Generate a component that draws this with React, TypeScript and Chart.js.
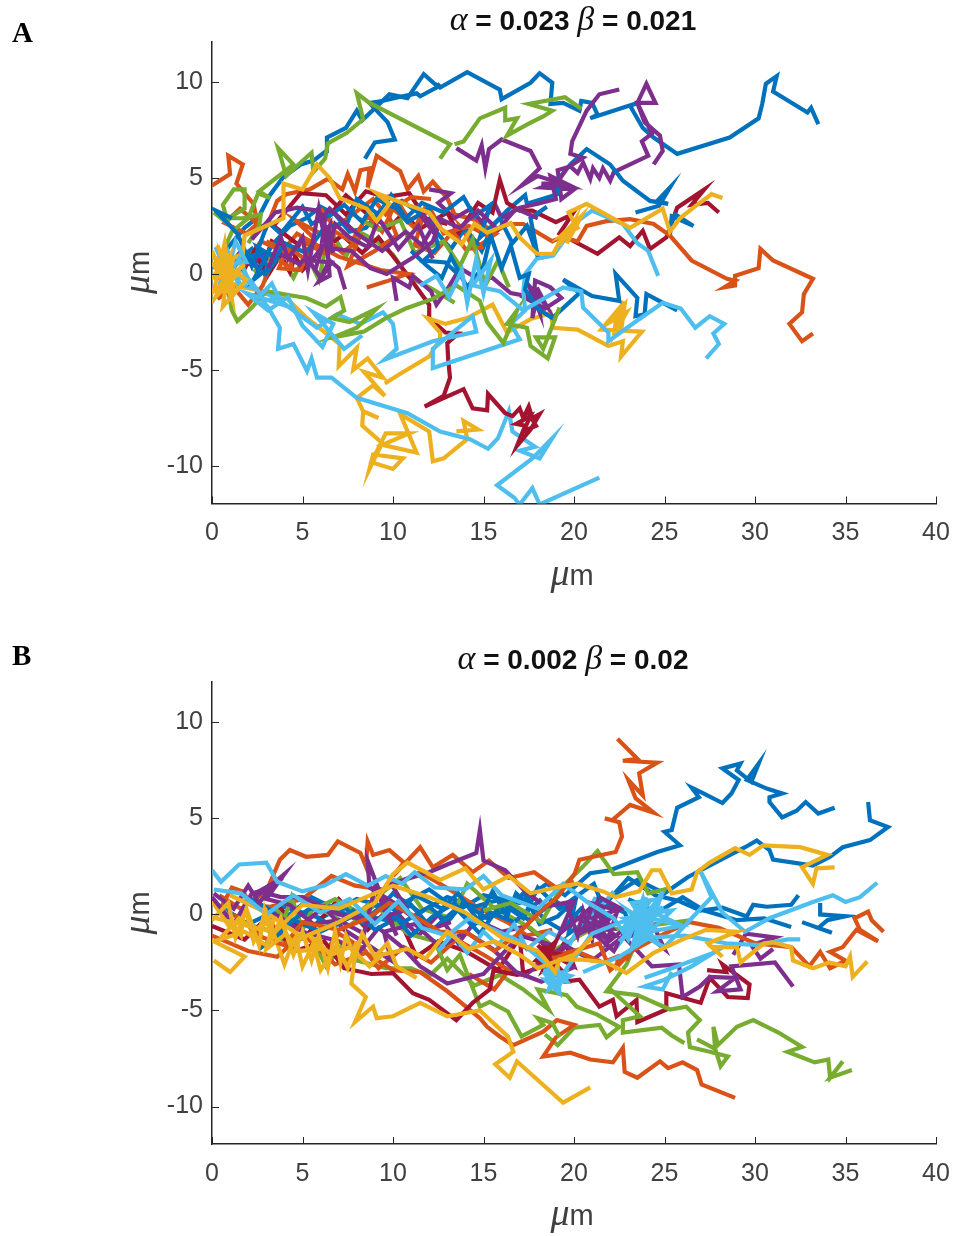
import React, { useEffect, useRef } from "react";
import { Chart, registerables } from "chart.js";

Chart.register(...registerables);

const xTickValues = [0, 5, 10, 15, 20, 25, 30, 35, 40];
const yTickValues = [-10, -5, 0, 5, 10];

// Flat x,y pairs in micrometres. Panel A.
const A_BLUE_1 = [0,0.3,1,1.5,1.8,2.4,2.6,3,3.2,4.1,3.9,5,4.9,5.7,5.6,5.9,6.3,6.4,6.35,7.1,7.4,7.6,8,8.5,8.3,8,9.3,8.9,9.8,9.35,10.8,9.15,11.7,10.4,12.3,9.9,12.6,9.7,14.1,10.5,15.9,9.6,16,9.1,17.6,9.95,18.1,10.45,18.8,9.95,18.7,8.85,19.4,8.9,20.3,8.5,20.4,9,21,8.9,21.3,8.3,20.9,8.1,23.5,8.9,23.1,8.75,23.8,7.6,24.4,7.1,25.7,6.25,28.6,7.1,30.2,8.1,30.4,8.85,30.6,9.9,31.2,10.3,31,9.5,32.9,8.4,33.1,8.65,33.5,7.8];
const A_BLUE_2 = [8.45,6,9,6.85,10.1,7,9.7,7.9,9.2,8.4,8.7,8.9,9.4,9,10.3,9.2,11.3,9.4,11.5,9.25,12.4,9.7,12.6,9.9];
const A_BLUE_3 = [0.4,-0.3,1.4,0.7,2.2,1.3,2.7,0.5,3.4,1.6,4.3,2.5,5.2,2.9,6,3.5,6.8,3.1,7.6,2.2,8.5,2.4,9.3,3.3,10.5,3.8,11.4,3.2,12.2,2.4,13.2,1.3,14,2.4,14.9,1.2,15.5,2.5,16.3,3.3,17.3,4.1,17.4,3.65,19.1,4.15,19.2,5,19.8,5.7,20.7,6.5,22,5.7,22.7,4.85,24.2,3.8,25.2,3.65,24.6,3.8,25.3,4.5,24.7,3.55,23.4,3.2];
const A_BLUE_4 = [25.3,2,25.4,3,26.6,2.5,25.6,3.1,25.2,2.4];
const A_BLUE_5 = [11,1.2,11.9,0.4,12.7,-0.2,13.2,0.9,14.1,-0.7,15,0.4,15.4,2,16,0.3,16.5,1.5,17,-0.2,17.5,0,17.3,-0.8,18,-1.8,18.8,-2.3,20.3,-1,19.4,-0.3,21,-1.15,22.5,-1.4,22.3,0,23.5,-1.25,23.4,-2.2,23.9,-2.1,24,-1.05,25.7,-1.9];
const A_BLUE_6 = [1.1,2.9,0.2,3.3,1.4,2.1,2.2,0.4,3.1,2.7,3.8,2.1,5,3.5,5.5,2.6,6.6,3.1,7.3,3.6,8.3,2.7,9.1,3.9,10.2,3.4,10.8,2.7,12,3.4,12.5,1.4,11.7,0.7,12.9,0.6,13.8,-0.2];
const A_BLUE_7 = [2.6,0.1,2.1,1,3,0.9,2.3,-0.3,3.1,0.3,2.5,1.4,3.6,0.8,2.9,-0.1,4,1.6,5.2,1.1,6.2,2.4,7.5,2.7,8,3.9,9.2,3.1,9.9,4.1,10.7,2.9,11.6,3.7,12.8,3.2,13.9,4,14.5,3,15.4,3.6,14.8,1.9,15.9,2.9,16.6,1.6,17.4,2.5,18,0.9,17.6,2.9,18.5,3.5];
const A_ORANGE_1 = [0,4.6,1,5.2,0.9,6.15,1.7,5.7,1.35,4.7,2.3,3.65,2.5,2.6,1.55,3.4,0.7,2.65,1.9,2.1,2.5,2.6,3,2.4,3.6,3.8,4.1,4.15,5.4,4.4,6.4,4.95,7.2,4.4,7.5,5.2,7.9,4.3,8.2,5.4,8.7,5.5,8.6,4.5,9.1,6.15,10.4,5.35,10.8,4.4,11.4,5.1,11.7,4.3,12.2,4.8,13,3.95,13.4,3.1,14.6,2.8,15.7,2.1,14.8,1.5,13.8,2.4,14.6,1.1];
const A_ORANGE_2 = [0.2,-0.3,1,0.6,2.1,0.9,2.7,1.7,3.9,1.2,4.7,2.1,5.8,1.5,7,0.9,8.2,0.55,9.3,0.2,10.8,0,9.6,-0.4,8.55,-0.7];
const A_ORANGE_3 = [6,3.4,6.8,2.4,7.9,3.2,8.9,3.9,9.6,3.1,10.3,3.7,10.9,2.8,12.1,3.3,12.8,2.1,14.2,2.5,15.2,2,16.4,2.6,17.2,2.6,18.8,1.7,19.3,1.9,20.2,1.7,20.7,2.5,21.8,2.75,23.1,2.85,24.4,2.6,25.3,2,26.5,0.7,28.45,-0.25,28.9,-0.35,28.3,-0.7,28.9,-0.6,28.9,-0.1,30.2,0.3,30.3,1.3,31,0.7,33.2,-0.25,32.7,-1.05,32.6,-2,31.9,-2.6,32.6,-3.5,33.2,-3.1];
const A_ORANGE_4 = [0.3,-1.3,1.2,-0.7,2,-1.6,2.8,-0.6,3.4,0.9,4.4,0.3,4.2,1.4,5.4,0.6,5,1.7,6.2,1.1,6.8,2.2,7.7,1.7,8.6,3,9.4,2.2,10,3.4,11.2,2.4,11.8,3.5,11.2,1.5,12.3,1.1,13.3,2.2,14,1.3,15,1.4];
const A_ORANGE_5 = [3,1.7,4.1,1.2,3.7,0.3,4.9,0.2,5.6,1.9,4.6,2.8,6,2.1,7.2,1.1,8.1,1.8,7.5,0.4,9,1.2,10.2,2,9.7,3.2,11,4,12.1,3.9];
const A_YELLOW_1 = [0.2,0.4,1.7,1.05,1.8,2,3.95,2.9,3.95,4.7,5,4.4,5.8,5.7,6.5,5,7.05,3.95,8.55,3.4,9.1,2.75,9.8,3.65,9.1,4.2,10.5,3.7,12,3.2,12.6,2.4,13.8,1.55,14.5,2.6,15.2,2.15,16.5,2.65,17,1.9,17.95,1.05,18.85,1.05,19.5,2.2,19.2,1.5,20,2.7,19.6,1.6,20.4,3,19.3,2,20.2,2.4,19.7,3.2,20.7,3.65,23.1,2.4,24.9,3.4,25.3,2.2,25.85,2.9,26.6,3.45,27.6,4.15,28.2,3.95];
const A_YELLOW_2 = [0.3,-0.2,1.7,-0.7,3.9,-1.05,5.25,-2.3,7.05,-3.65,7,-4.8,8,-3.85,7.8,-5,8.6,-4.4,9.45,-5.4,8.4,-5.1,9.55,-6.35,8.9,-5.8,8,-6.45,8.35,-7.15,9.2,-7.5,8.35,-7.15,8.3,-7.9,9.4,-8.8,8.7,-10.15,8.9,-9.4,10.55,-9.6,10,-10.15,8.8,-9.8,9.6,-8.3,10.9,-8.3,9.4,-8.9,11.3,-9.3,10.4,-7.3,12,-8.2,12.2,-9.75,12.8,-9.6,14.1,-8.6,13.9,-7.65,14.7,-8.1,13.5,-8.2];
const A_YELLOW_3 = [9.55,-5.7,10.4,-5.2,12,-4.3,12.6,-3.4,12.6,-3.05,11.9,-2.3,12.9,-2.6,14.1,-2.3,15.5,-1.6,16.3,-3.05,17.6,-2.35,18.5,-2.1,18.7,-2,18.85,-2.8,20.2,-2.9,21.9,-3.75,22.7,-3.5,22.6,-4.3,23.75,-3,21.5,-2.9,22.4,-1.9,22.2,-3.2,22.7,-1.4,22.3,-3,22.9,-2,22,-2.5,22.8,-1.6,22.6,-3];
const A_YELLOW_4 = [0,0.6,0.8,-0.6,1.2,0.9,0.2,-1.2,1.4,0,0,-0.2,1,1,0.6,-1.7,1.9,-0.3,0.1,0.9,1.3,-1,0.3,1.5,0.9,-0.2,1.8,0.5,0.1,-0.9,0.7,1.6,1.1,-1.3,0,1.2];
const A_PURPLE_1 = [13.5,6.55,14.6,5.9,14.9,6.7,15.1,5.5,15.3,6.5,16,7,17.6,6.4,18.1,5.5,17.1,4.6,18,5.1,19,4.8,18.2,4.5,20,4.4,19.3,3.9,19.1,5.4,19.8,5.6,20.2,5.25,20.5,5.8,20.9,4.95,21.05,5.5,21.4,5,21.6,5.5,22,4.85,22.2,5.3,24.1,6.15,23.75,6.9,24.3,7.3,23.8,8.3,23.5,8.9,24.5,8.9,24,9.9,23.5,8.9,23.9,7.9,24.75,7.2,24.9,6.4,24.4,5.7];
const A_PURPLE_2 = [22.5,9.6,21.4,9.35,20.7,8.5,19.9,6.9,19.8,6.25,20.5,6.05,19.6,5.5,19.05,4.7,18.2,4.7,19.9,4.55,18.7,5.1,19,3.9,18,3.65,17,3.45,16,2.9,15.6,3.7,14.9,2.7,14.3,3.4,13.4,2.9,12.5,3.7,13.2,4.2,12,4.4];
const A_PURPLE_3 = [0.8,0.2,1.6,1.2,2.4,0.5,2.5,1,3.75,1.05,4.85,0.5,5.2,0.9,6,-0.2,6.5,0.7,7,0.3,7.35,-0.8];
const A_PURPLE_4 = [2.2,1.8,3.5,3.2,4.7,3.45,5.8,3.3,6.25,2.9,6.1,1.8,6.5,2.5,6.4,1.35,7.7,1.2,8.75,0.3,9.65,0,11.1,0.85,12.2,1.7,12.6,2.75,11.65,2.9,12.3,2.1,11.6,3.2];
const A_PURPLE_5 = [10.2,-1.4,10,-0.2,10.9,-0.7,11.1,-0.1,12.1,-0.9,12.4,-1.6,13,-0.8,13.7,0.3,14.6,-0.2,15.5,-0.2,16.5,-1,17.95,-1.25,17.7,-2.3,17.85,-0.35,18.7,-0.7,19.3,-1.25,18.4,-1.8,17.2,-1.2,18,-0.8,18.5,-1.7,17.5,-0.6,18.1,-2,17.9,-0.7];
const A_PURPLE_6 = [5.7,0.2,6.1,1.4,5.5,0.7,6.6,0.6,5.9,-0.4,6.5,-0.1,6.3,2.3,6.7,1.1,6,2.8,6.5,3.4,8,2.1,9.4,1.2,10.7,2.2,11.6,1.5,12.5,2.9,13.7,2.4,14.7,3.3,15.8,2.3,16.8,3.4,18,2.9];
const A_PURPLE_7 = [3.1,0.3,3.8,1.9,4.2,0.8,5,1.9,5.3,0.2,5.9,3.4,6.4,1,6.8,2.6,7.6,1.9,8.6,1.4,9.2,2.9,10.3,1.3,11.4,2.5,12.2,0.8];
const A_GREEN_1 = [0.4,0.7,1.1,2.2,2,2.9,2.55,4.2,3.2,3.95,2.6,4.3,4.5,5.7,3.65,6.55,4.1,5.1,4.9,5.8,5.5,6.3,5.6,5.3,6.25,6,6.4,6.8,7.45,7.35,8.35,8.05,8,9.4,8.7,8.9,13.15,6.75,12.6,6];
const A_GREEN_2 = [13.4,6.75,13.9,6.9,14.8,8.1,16.2,8.65,16.2,8,16.85,8.1,16.3,7.2,17.55,7.85,18.3,8.2,18.8,8.5,17.5,8.85,19.5,9.2,20.4,8.6];
const A_GREEN_3 = [0.1,3.2,0.9,2.6,0.6,3.6,1.2,4.4,1.8,4.4,1.8,3.4,0.9,2.9,1.7,2.9,2.7,3.1,2.6,2.5,2,1.6];
const A_GREEN_4 = [0.9,-0.9,1.1,-1.9,1.4,-2.45,2.2,-1.75,3,-0.9,5.2,-1.25,6.3,-1.7,7.1,-1.2,7.3,-1.9,6.6,-2.3,7.6,-2.5,9.1,-1.8,8,-2.8,6.7,-3.3,8.4,-3,9.6,-2.3,10.7,-1.8,12.2,-1.3,13.5,-0.6,14.8,-1.4,15.2,-2.5,16.1,-3.6,16.85,-1.9,16.3,-2.6,17.4,-2.8,17.6,-3.75,18.55,-4.4,18.95,-3.3,17.9,-3.3,18.3,-3.9,19.2,-1.75];
const A_GREEN_5 = [2.3,0.1,3.6,1.2,4.5,-0.2,5.2,1.1,5.9,-0.3,6.5,2.3,7.4,0.9,8.1,2.2,9.1,1.7,10,1,10.8,-0.1,12.2,-0.8,13.4,-1.5];
const A_GREEN_6 = [8.1,2.9,9.2,2.3,10.4,2.8,11.2,1.1,12.8,1.7,13.7,0.4,14.4,1.8,15.1,-0.6,15.8,0.7,16.4,-0.7];
const A_CYAN_1 = [0.3,0.2,1.7,0.15,2.5,-0.9,3.75,-1.25,2.8,-1.4,3.1,-1.75,3.75,-2.8,3.65,-3.9,4.5,-3.65,5.25,-5.05,5.5,-4.4,5.8,-5.4,6.6,-5.4,8,-6.45,10.8,-7.25,12.6,-8.2,14.25,-8.6,15.25,-9.1,15.8,-8.55,16.4,-7.15,16.6,-8.2,17.85,-9,17,-9.2,18.1,-9.6,18.8,-8.55,17.7,-9.6,15.75,-11,16.7,-11.65,17,-12,17.7,-11.15,18.1,-12,21.4,-10.6];
const A_CYAN_2 = [1.4,-0.5,3.2,-1,4.5,-1.9,5.8,-2.8,6.9,-2.1,8.2,-2.6,9.45,-2,10,-2.6,10.2,-3.9,9.55,-4.45,12.2,-3.5,14.6,-3,14.4,-2.2,12.2,-3.9,12.2,-4.9,17,-3.4,16.5,-2.6,17.3,-1.9,17.2,-0.9,17.3,0,17.95,0.8,18.85,0.95,20.2,2.75,21,3.3,22.7,2.6,23.5,1.6,24.1,1.2,24.65,-0.1];
const A_CYAN_3 = [11.5,-0.6,12.4,-0.1,13.1,-1.2,13.8,0.2,14.1,-1.5,14.6,0.8,15,-1,15.4,0.7,14.4,-0.6,15.9,-0.9,17.2,-1.9,19.4,-0.7,20.4,-0.9,20.5,-1.75,21.9,-3.05,21.9,-3.5,23.3,-2.55,24.9,-1.5,25.9,-1.8,26.7,-2.8,27.5,-2.2,28.3,-2.6,27.7,-3.1,28,-3.65,27.3,-4.4];
const A_CYAN_4 = [0.2,1.4,1,-0.4,0.6,0.9,1.6,-0.7,0.9,1.1,0.3,-1,1.5,0.8,2.1,-0.5,1,0.2,0.6,-0.9,1.3,1.7,1.9,0.6,0.4,0.4,1.2,-1.2];
const A_CYAN_5 = [2.1,-0.3,2.7,-1.1,3.3,-0.5,3.9,-1.6,1.9,-1,3.1,-1.9,4.2,-1.2,5,-2.7,6.1,-3.8,6.7,-2.6,5.6,-2,7.3,-3.9,8.3,-3.2];
const A_CRIMSON_1 = [0.3,-0.8,1.5,0.7,2.8,0.3,3.3,1.7,4.5,1.1,5,0.2,6,1.2,7.2,2,8.3,1.1,9.2,1.9,10.1,0.8,11,-0.3,12,-1.6,12,-2.3,12.9,-3.05,13.6,-3.1,13,-3.6,13.05,-4.45,13.15,-5.4,12.8,-6.35,11.75,-6.9,13.9,-6,14.4,-7,15.2,-7.1,15.25,-6.25,16.2,-7.25,16.6,-7.4,17,-7,17.2,-7.5,17.5,-6.9,17.7,-7.5,18.1,-7.3,17.6,-8.1,16.85,-8.95,17.3,-7.9,16.8,-7.8,17.6,-7.4,17.2,-8.2,17.9,-7.9,17.4,-7.1];
const A_CRIMSON_2 = [6.3,2.8,7.4,4.1,8.6,3.1,9.8,2.4,10.6,3.2,11.4,2.3,13,3.2,13.6,2.1,14.7,3.7,15.5,3.2,15.9,4.9,16.3,3.7,17,3.3,17.7,3.3,19,2.7,19.9,3.1,19.2,2.1,21.3,1.05,22.5,1.9,23.1,1.45,23.8,2.25,24.2,1.3,25.1,1.9,25.7,3.45,27.2,4.4,26.5,3.6,27.4,3.7,28,3.2];
const A_CRIMSON_3 = [1.7,0.1,2.4,1.3,3,-0.2,3.8,1,4.3,0.1,4.8,1.5,3.4,2.5,4.9,4.2,6.3,4.1,7.4,3.1,8.5,4.3,9.6,4,10.9,4.2,11.8,2.9,13,2.6];

// Panel B.
const B_BLUE_1 = [0.5,0.4,2,-0.5,4,0.4,6,-0.2,8,0.8,10,0.3,12,1.3,13.6,0.2,15,1,17,0.6,18.5,1.6,19.5,1,20.9,2.15,22,2.3,23.1,2.7,24.6,3.25,25.85,3.6,25,4.3,25.4,4.4,25.7,5.55,26.9,6.1,26.5,6.6,27.15,6.3,28.2,5.8,28.7,6.3,29.1,7,28.2,7.6,29.2,7.85,29,7.5,29.8,6.9,30.2,7.85,29.55,7,30.65,6.55,31.5,6.3,30.8,6.1,30.8,5.85,31.5,5.05,32.3,5.4,32.8,5.85,33.5,5.25,34.4,5.55];
const B_BLUE_2 = [2,0.9,4,-0.2,5.5,0.9,7,0.2,8.5,-0.5,10,1.1,11.5,0.1,13,0.9,14.5,0.4,16,0.8,17.5,-0.3,19,0.7,20.5,-0.4,22,0.9,23.5,1.8,25,1.1,26.3,1.95,27.7,2.65,29.45,3.5,30.1,3.85,30.8,3.35,31,2.85,33.2,2.55,34.15,3,34.85,3.5,36.35,3.87,37.35,4.55,36.35,4.9,36.25,5.85];
const B_BLUE_3 = [3,-1.4,4.5,-0.3,6,-0.9,8,0,9.7,-0.3,11,0.5,12.2,-0.8,13.5,0.3,14.8,-1,16,0.6,17.2,-0.2,18,1.4,19.2,0.3,21.1,1.6,21.6,0.4,23,1.9,24.5,1,25.8,0.7,27,0.2,28.2,0.35,29.55,-0.1,29.9,0.5,30.65,0.4,32,0.5,32.4,1];
const B_BLUE_4 = [23,0.8,24.6,0.1,26,0.9,27.2,0.2,29,-0.3,30.5,-0.2,32,-0.65];
const B_BLUE_5 = [32.6,-0.4,34.25,-0.95,33.5,-0.7,34,-0.3,35,-0.1,33.6,0,33.6,0.6];
const B_BLUE_6 = [2.6,-1.8,3.6,-1.1,4.6,-0.2,5.4,0.3,7.4,0.3,8.2,-0.4,9.5,0.5,10.4,0.1,11.2,1,12.7,0.3,13.6,1.1,14.7,-0.3,15.5,1.2,16.3,-0.1,16.8,1.1,17.6,0.4,18.1,-0.5,19.1,-0.1,20.1,0.8,19.7,-1,20.9,-0.2,22,-0.8,21.4,0.7,22.8,0.1,23.5,-1.3];
const B_BLUE_7 = [9,0.5,10.6,-0.4,12,0.4,13,-0.4,13.9,0.6,15.2,-0.2,16.4,0.3,17.2,1.1,18.4,-0.3,19.3,-0.8,20.4,0.3,21.6,-0.9];
const B_BLUE_8 = [5.8,-0.2,6.8,-0.6,7.8,0.2,9,-0.8,10.2,-0.2,11,-1.1,12.2,-0.1,13.4,0.6,14.4,-0.6,15.4,0.1,16.7,-0.4,18.2,0.8];
const B_ORANGE_1 = [0.4,1,1.6,0.3,3,1.2,3.75,2.85,4.3,3.35,5.2,3,6.4,3.1,6.95,3.8,8.2,3.2,8.5,2.5,8.6,3.8,8.9,3.1,9.8,3.35,10.6,2.7,10,2,11.5,3.5,12.2,2.45,13.3,3.1,14.4,2.2,15.3,2.8,16.4,1.9,17.8,2.2,19,1.4,20,1.7];
const B_ORANGE_2 = [1.2,0,2.8,-1.2,4,-1.6,5,-0.4,7,-0.8,8.6,-0.2,9.8,0.6,11,0,12.6,-0.9,14,-0.9,15.6,-1.9,16.8,-1.1,18.3,0.3,19.1,0.9,20.05,2.15,20.3,2.85,22.3,3.25,22.65,4.05,22.5,4.8,21.7,5,22.1,4.9,23.1,5.7,24.4,5.3,23.4,6.05,23,7,23.8,6.2,23.6,7.35,24.6,7.9,22.7,8,23.5,8.1,22.4,9.15];
const B_ORANGE_3 = [0,-1.1,2,-1.9,3.6,-2.2,5,-1,6.8,-2.6,8.5,-2,10,-2.9,11.5,-3,13,-4,14.8,-5.4,15.2,-5.85,15.9,-6.35,16.65,-6.8,18.3,-6.1,19.05,-5.5,20,-5.75,19,-6.4,18.3,-7.4,19.8,-7.2,20.9,-7.55,22.15,-7.7,22.7,-6.95,22.8,-8.2,23.5,-8.5,24.75,-7.65,25.2,-8,26,-7.7,26.8,-8.1,27.05,-8.85,28.9,-9.55];
const B_ORANGE_4 = [17,-1.6,18.5,-2.2,20,-1.9,21.4,-1.5,22,-2.9,23.2,-1.9,25,-1,26.4,-0.4,28,-0.7,30,-1.5,32,-1.7,33,-2.7,33.6,-1.95,34.15,-2.8,35,-2.4,34.15,-1.95,34.85,-1.7,35.6,-0.8,36.8,-1.4,35.8,-0.8,35.5,-0.2,36.25,0.15,36.45,-0.3,37.1,-0.9];
const B_ORANGE_5 = [18.8,-2.3,20.1,-1.9,21.6,-2.5,22.4,-2.2,22.4,-2.7,23.2,-1.9,24,-0.9,24.6,-0.45,23.6,-1.1,22.9,-2.4];
const B_ORANGE_6 = [0.4,0.2,1.1,1.4,1.7,1.2,2.2,0.5,3.2,0.4,5,0.8,6.6,2,7.9,1.5,9.5,1.3,11.5,2.2,13.3,1.2,14.8,0.3,16.3,-0.4,17.4,-1.1,18.8,-0.8];
const B_ORANGE_7 = [6.2,-2,7,-1,8.4,-1.8,9.2,-2.8,10.6,-1.7,12.1,-2.5,13.5,-1.3,15,-2.1,16.4,-2.9,15.6,-3.9,14.2,-3.1];
const B_YELLOW_1 = [0,0.7,1,-0.7,0.5,0.4,1.6,-1.1,1.8,0.5,2.3,-1.4,3,0.1,3.6,-1.5,4,-2.6,4.6,-1.1,5,-2.7,5.6,-1.5,6,-2.9,6.9,-1.6,7.5,-2.8,8,-1.4,7.7,-3.6,8.5,-4.3,7.9,-5.6,8.9,-4.8,9.1,-5.4,10,-5.3,11.5,-4.6,13,-5.3,14.8,-5,16.35,-6.35,16.65,-7.15,15.65,-7.8,16.45,-8.5,16.85,-7.65,19.4,-9.8,20.9,-9];
const B_YELLOW_2 = [0.2,-0.2,2,-0.6,3.5,-0.9,5,0.5,7,0.3,8.5,0.9,10,1.5,12,0.9,14,0.1,16,-1.2,18,-1.9,18.3,-2.2,18.95,-3,19.2,-2.35,20.5,-2.35,21.8,-2.5,22.9,-3.05,24.4,-2,26,-1.3,27.3,-0.8,29,-0.9,27.4,-1.5,28.2,-2.2,27.6,-1.7,29,-1.7,29.2,-2.5,30.5,-1.5,31,-1.45,32,-1.7,32.1,-2.4,33.2,-2.8,34.1,-2.5,35,-2.7,35.25,-2.2,35.4,-3.25,36.2,-2.45];
const B_YELLOW_3 = [1,1,3,0.1,5,-1.2,7,-0.4,9,0.6,10,2.1,10.8,2.7,12.6,1.8,14,2.4,15,1.3,16.4,2,17.6,1.1,19,1.4,20.2,1.6,21.6,1.2,22.3,0.9,23.6,1.2,24.3,2.3,24.75,2.3,25.4,1.1,26.5,1.3,26.8,2.2,27.5,2.7,28.9,3.45,29.7,3.1,30.45,3.6,32.5,3.5,34,3.1,32.6,2.45,33.2,1.6,33.4,2.4,34.4,2.45];
const B_YELLOW_4 = [0.1,-2.4,1,-3,1.8,-2.2,0.1,-1.4,1.8,-0.9,3,-1.6];
const B_YELLOW_5 = [0,-0.3,0.9,0.6,1.3,-1.2,1.9,0.3,2.6,-1.6,2.9,0.2,3.3,-1.3,3.8,-0.2,4.5,-2.1,5,-0.9,5.5,-2.4,5.9,-1.1,6.4,-2.8,6.8,-0.9,7.1,-2.5,7.4,-1.1,7.9,-2.2,8.3,-1,9,-2.2,9.7,-1.5,10.2,-2.7,11.3,-3.3];
const B_YELLOW_6 = [0.5,-1.2,1.5,-0.2,2.3,-0.8,3.4,-0.3,3,-1.8,4.1,-1,4.8,-1.9,6,-1.8,5.4,-1.1,6.6,-2.1,7.6,-1.7,8.7,-2.7,9.4,-2.1,10.8,-1.8,11.8,-2.3,13,-0.9,14.2,-1.8,15.6,-1.4,17,-2.1,18,-2.8,20,-2.1,21,-1.2];
const B_PURPLE_1 = [0,0.9,1.2,-0.5,2.2,1.1,3,1.3,4,2.1,3,0.8,4.3,0.5,5.6,-0.5,7,-0.3,8.4,-1,9,1.4,10.2,-1.1,8.6,2.8,8.7,1.4,9.9,0.7,10.8,0.2,9.9,1.6,12,2.2,13,2.6,14.6,3.2,14.8,4.4,15,2.8,16.2,2.3,17.2,1.3,18.4,0.4,20,0.7,19.2,-1,21,0.4,20.5,-0.9,22,-0.2,21,-1.1,22.3,-1.1,21,-0.2,22.6,0.3,21.4,0.9];
const B_PURPLE_2 = [2,-1.1,3.5,0,5,-0.9,7,-1.4,8.2,-1.9,9.2,-0.7,10.5,-1.7,11.5,-2.7,13,-3.6,15,-3.1,17,-1.1,18.8,-1.6,17.8,-2.8,19.5,-1.6,21,-2.4,22.5,-1.3,23.8,-0.9,25,-1.8,24.5,-0.8,22.8,-1.2,24.3,-2.7,25.8,-2.6,26,-4.3,26.95,-3.75,27.5,-3.25,28.9,-3.3,27.9,-4,29.2,-3.9,28.7,-2.7,31.1,-2.5,32.1,-3.75];
const B_PURPLE_3 = [28.8,-2.1,29.5,-1,31.1,-1.2,29.8,-1.6,30.3,-2.3,31,-1.8];
const B_PURPLE_4 = [10,0.3,11.4,-1.1,12.5,0,13.6,-1.5,14.6,-0.3,16,-0.9,17.4,-0.6,19.2,-2,20.6,-0.6,22.2,-1.9,23,-0.6];
const B_PURPLE_5 = [0.1,1.1,1.2,0.3,2,1.5,2.6,0.6,3.4,1.5,2.3,0.9,3.9,1.9,2.6,1.2,3.8,0.9,5,0.9,7,0,8.9,-0.3,10.6,0.2,12,-0.8,13.2,-0.4];
const B_PURPLE_6 = [19.6,0.5,20.2,-1.1,20.5,0.2,21,-1.3,21.3,0.5,21.7,-1.2,20.6,-0.4,22.1,-0.7,20.9,0.6,22.4,0.2,21.8,-1.5,22.7,-0.8];
const B_PURPLE_7 = [4.9,-0.6,6.2,0.4,7.3,-0.8,8.8,-1.7,9.9,-2.4,9.5,-0.9,11.2,-0.5,12.6,-1.7,14,-0.9,15.5,-1.8,16.8,-3,18.2,-3.5,20.1,-2.7];
const B_GREEN_1 = [1.5,-0.4,3,-0.8,4,-1.4,5.5,-1.2,6.3,-2.7,7.5,-1.2,8,-2.4,9.6,-2.8,11,-2.8,12,-3.2,13,-2.3,14.5,-3.7,15.9,-3.15,17.2,-3.9,18.6,-4.95,18,-3.9,19.6,-4.2,20.15,-4.8,21.25,-5.2,22.5,-5.85,21.8,-6.4,21.4,-5.75,20,-5.9,19.1,-6.8,18.4,-6.25];
const B_GREEN_2 = [6,0.3,7.6,-0.6,9,0.5,10.8,-1,12.3,-1.4,13,-2.9,13.7,-2.1,14.8,-4.8,15.35,-4.55,16.35,-5.05,17.1,-6.35,18.3,-5.75,18,-5.4,18.8,-5.65,19.2,-6.35];
const B_GREEN_3 = [15,0.2,16.5,0.6,18.2,-0.4,19.3,1.4,20.4,2.4,21.3,3.3,22.2,2.1,23.5,2.2,24.1,1.1,25,1.3,24,-0.2,22.9,-2.6,21.8,-4,23.5,-4.2,25.3,-4.95,26.2,-4.8,26.95,-5.5,26.3,-6.15,26.4,-6.9,27.5,-7.15,28.5,-7.4,28.1,-7.9,27.8,-7,26.8,-6.5,27.8,-7,27.7,-5.85,27.95,-6.8,29,-5.85,29.9,-5.5,31.3,-6.15,32.6,-6.9,31.8,-7.15,33.3,-7.7,34.05,-7.55,34.15,-8.5,34.85,-7.65,34.15,-8.5,35.35,-8.1];
const B_GREEN_4 = [21.9,-3.8,23.65,-5.3,22.7,-5.5,22.7,-6.15,24.85,-5.9,25.4,-6.3,26.1,-6.7];
const B_GREEN_5 = [3.4,0.4,4,-0.2,4.4,0.9,5,-0.8,5.5,0.2,6.8,0.8,8.1,0.1,10.4,1.9,11.6,0.3,13.2,-0.2,14.1,1.6,15.5,0.4,17.6,-0.7,19,-1.8,20.7,-0.9,24,-0.6,26.5,-0.3];
const B_CYAN_1 = [0,2.3,0.5,1.7,1.5,2.6,3,2.7,3.6,1.7,5,1.2,6.2,1.5,7.4,2.1,8.6,1.5,9.6,2,10.5,1.6,11.2,2.2,12.3,1.4,14,1.3,15,2,16,1,18,0.3,19.4,1.6,20.8,0.6,22.2,-0.2,23,-1.3,23.8,0.8,24.1,-1,24.9,1.2,23.4,-1.6,25.4,0.2,23.5,0,25.9,-0.6,23.6,-1,25,-1.7,26.5,-0.2,27.6,0.9,27.2,1.8,26.9,2.4,28.2,0.1,29.45,-0.9,30.8,-0.2,33.2,0.65,34.3,1,35,0.65,35.8,0.9,36.75,1.65];
const B_CYAN_2 = [0.1,1.3,1.6,1.1,3,0,4.5,1,6,0.1,7.6,0.8,9,-0.5,10.3,0.7,11.6,-0.7,13,-1.1,14.2,-0.2,15.6,-0.8,17,-1.4,18.5,-2.6,18.9,-3.6,19.5,-3,18.4,-3.1,19.1,-3.9,19.6,-2.8,21,-1,22.6,-0.4,24.4,0.1,26,-0.6];
const B_CYAN_3 = [23.9,-3.3,25.1,-2.9,27.7,-2,26.5,-2.7,25,-3.4,23.9,-3.75,24.9,-3.9,25.4,-3];
const B_CYAN_4 = [20.5,-3,22.5,-2.2,24.2,-1.2,26.1,-1.1,28.4,-1.5,30.2,-1.6,31.8,-1.3,32.5,-1.3];
const B_CYAN_5 = [22.6,-0.9,23.6,0.5,22.9,-1,24.2,0.7,23.1,-0.6,24.5,0.1,22.8,-0.2,24.1,-0.8,23.2,0.6,24.7,0.8,22.5,-1.4,23.8,-0.3,23,0.2,24.3,-1.1,23.6,-0.8,24.9,0.4,23.3,-1.4,24,0.9];
const B_CYAN_6 = [18.9,-2.8,19.6,-3.5,18.4,-3.4,19.2,-4.1,19.1,-2.7,18.6,-3.9,19.8,-3.2,18.3,-2.9];
const B_CYAN_7 = [12.5,-1.9,13.3,-1,14.1,-2,15,-0.9,15.8,-1.6,16.7,-0.5,17.4,-1.8,18.6,-0.9,19.8,-1.5,21.2,0.9,20.7,-0.5,22.2,1.2];
const B_CRIMSON_1 = [0,-0.6,1.8,-1.3,3,-0.2,4.6,-1.9,6.2,-1.4,7.3,-2.8,8.8,-3.1,10,-3.05,11.1,-4.1,12,-4.45,13.5,-5.5,14.4,-4.6,15.35,-3.9,15.55,-2.9,16.85,-3.15,18.3,-2.7,19,-2.4,18.2,-1.4,18.9,-2.6,19.5,-1.4,20,-2.7,18.4,-1.9,19.5,-3.5,20.3,-3.4,21.4,-4.8,22.15,-4.45,22.35,-5.3,23.45,-4.45,23.5,-5.6,25.1,-4.95,25.1,-4.1,27,-4.6,27.5,-3.3,28.5,-4.3,29.6,-4.35,29.7,-3.65,28.2,-2.6,28.4,-3,27.35,-2.9];
const B_CRIMSON_2 = [3.6,0.5,5.2,-1.1,7,0.8,8.6,-0.8,10,0.5,11.3,-2.2,12.5,-1.4,14,-1.9,15.8,-2.9,17,-1.2,17.2,-3.15,15.6,-2.9];
const B_CRIMSON_3 = [18,-1.6,19.2,-2.8,17.9,-2.4,19,-1.4,18.3,-2.9,19.4,-2.1,17.8,-1.9,18.8,-2.5];

const seriesA: [string, number[]][] = [
  ["blue", A_BLUE_1],["blue", A_BLUE_2],["orange", A_ORANGE_1],["yellow", A_YELLOW_2],["purple", A_PURPLE_1],["green", A_GREEN_5],["cyan", A_CYAN_1],["crimson", A_CRIMSON_1],
  ["blue", A_BLUE_3],["orange", A_ORANGE_2],["yellow", A_YELLOW_3],["purple", A_PURPLE_2],["green", A_GREEN_1],["crimson", A_CRIMSON_2],
  ["blue", A_BLUE_4],["orange", A_ORANGE_3],["green", A_GREEN_2],["purple", A_PURPLE_5],["cyan", A_CYAN_2],["crimson", A_CRIMSON_3],["orange", A_ORANGE_4],["orange", A_ORANGE_5],["green", A_GREEN_6],
  ["blue", A_BLUE_5],["green", A_GREEN_3],["purple", A_PURPLE_3],["green", A_GREEN_4],["blue", A_BLUE_6],["blue", A_BLUE_7],["purple", A_PURPLE_6],["purple", A_PURPLE_7],["purple", A_PURPLE_4],["cyan", A_CYAN_3],["yellow", A_YELLOW_1],["cyan", A_CYAN_5],["cyan", A_CYAN_4],["yellow", A_YELLOW_4],
];
const seriesB: [string, number[]][] = [
  ["blue", B_BLUE_1],["orange", B_ORANGE_1],["green", B_GREEN_1],["crimson", B_CRIMSON_2],["purple", B_PURPLE_4],["orange", B_ORANGE_6],["orange", B_ORANGE_7],
  ["blue", B_BLUE_2],["orange", B_ORANGE_3],["green", B_GREEN_2],["green", B_GREEN_5],["crimson", B_CRIMSON_1],["purple", B_PURPLE_2],["purple", B_PURPLE_3],["purple", B_PURPLE_7],
  ["blue", B_BLUE_3],["blue", B_BLUE_6],["blue", B_BLUE_7],["blue", B_BLUE_8],["green", B_GREEN_3],["green", B_GREEN_4],["yellow", B_YELLOW_1],["cyan", B_CYAN_7],["purple", B_PURPLE_1],["purple", B_PURPLE_5],["purple", B_PURPLE_6],["blue", B_BLUE_4],["blue", B_BLUE_5],
  ["orange", B_ORANGE_2],["orange", B_ORANGE_4],["crimson", B_CRIMSON_3],["orange", B_ORANGE_5],["cyan", B_CYAN_1],["cyan", B_CYAN_3],["cyan", B_CYAN_4],["yellow", B_YELLOW_3],["cyan", B_CYAN_2],["cyan", B_CYAN_5],["cyan", B_CYAN_6],["yellow", B_YELLOW_2],["yellow", B_YELLOW_4],["yellow", B_YELLOW_6],["yellow", B_YELLOW_5],
];

const palette: Record<string, string> = {
  blue: "#0072BD", orange: "#D95319", yellow: "#EDB120", purple: "#7E2F8E",
  green: "#77AC30", cyan: "#4DBEEE", crimson: "#A2142F",
};

type Run = { t: string; serif?: boolean };
const titleA: Run[] = [{ t: "α", serif: true }, { t: " = 0.023 " }, { t: "β", serif: true }, { t: " = 0.021" }];
const titleB: Run[] = [{ t: "α", serif: true }, { t: " = 0.002 " }, { t: "β", serif: true }, { t: " = 0.02" }];
const unitRuns: Run[] = [{ t: "μ", serif: true }, { t: "m" }];

function drawRuns(ctx: CanvasRenderingContext2D, runs: Run[], cx: number, baseY: number, size: number, serifSize: number, bold: boolean, color: string, rot = 0) {
  const fontOf = (r: Run) => r.serif
    ? `italic ${serifSize}px "Liberation Serif"`
    : `${bold ? "bold " : ""}${size}px "Liberation Sans"`;
  let w = 0;
  for (const r of runs) { ctx.font = fontOf(r); w += ctx.measureText(r.t).width; }
  ctx.save();
  ctx.translate(cx, baseY);
  ctx.rotate(rot);
  ctx.fillStyle = color;
  ctx.textBaseline = "alphabetic";
  ctx.textAlign = "left";
  let x = -w / 2;
  for (const r of runs) { ctx.font = fontOf(r); ctx.fillText(r.t, x, 0); x += ctx.measureText(r.t).width; }
  ctx.restore();
}

function Panel({ series, title, top, height, plotTop, plotBottom, titleY, xLabelY, label, labelTop }: any) {
  const ref = useRef<HTMLCanvasElement>(null);
  useEffect(() => {
    const decor = {
      id: "decor",
      afterDraw(chart: any) {
        const { ctx, scales } = chart;
        const { x, y } = scales;
        ctx.save();
        ctx.strokeStyle = "#262626";
        ctx.lineWidth = 1;
        for (const v of xTickValues) {
          const p = Math.round(x.getPixelForValue(v)) + 0.5;
          ctx.beginPath(); ctx.moveTo(p, y.bottom); ctx.lineTo(p, y.bottom - 7); ctx.stroke();
        }
        for (const v of yTickValues) {
          const p = Math.round(y.getPixelForValue(v)) + 0.5;
          ctx.beginPath(); ctx.moveTo(x.left, p); ctx.lineTo(x.left + 7, p); ctx.stroke();
        }
        ctx.restore();
        drawRuns(ctx, title, 573, titleY, 28, 34, true, "#111", 0);
        drawRuns(ctx, unitRuns, 572, xLabelY, 29, 38, false, "#404040", 0);
        ctx.save();
        ctx.translate(149, (plotTop + plotBottom) / 2);
        drawRuns(ctx, unitRuns, 0, 0, 29, 38, false, "#404040", -Math.PI / 2);
        ctx.restore();
      },
    };
    const chart = new Chart(ref.current!, {
      type: "scatter",
      data: {
        datasets: series.map(([c, pairs]: [string, number[]], i: number) => {
          const data: { x: number; y: number }[] = [];
          for (let k = 0; k < pairs.length; k += 2) data.push({ x: pairs[k], y: pairs[k + 1] });
          return {
            label: `${c} ${i + 1}`, data, showLine: true, pointRadius: 0, borderColor: palette[c],
            backgroundColor: palette[c], borderWidth: 4.2, tension: 0, borderJoinStyle: "miter", borderCapStyle: "butt",
            order: series.length - i,
          };
        }),
      },
      options: {
        animation: false, responsive: false, devicePixelRatio: 1,
        layout: { padding: { top: plotTop, right: 18, left: 0, bottom: 0 } },
        plugins: { legend: { display: false }, tooltip: { enabled: false }, title: { display: false } },
        scales: {
          x: {
            type: "linear", min: 0, max: 40,
            afterBuildTicks: (s: any) => { s.ticks = xTickValues.map((value) => ({ value })); },
            afterFit: (s: any) => { s.height = height - plotBottom; s.paddingLeft = 0; s.paddingRight = 0; },
            grid: { display: false, drawTicks: false },
            border: { display: true, color: "#262626", width: 1.5 },
            ticks: { color: "#404040", padding: 15, maxRotation: 0, autoSkip: false, font: { family: "Liberation Sans", size: 25 } },
          },
          y: {
            type: "linear", min: -11.95, max: 12.1,
            afterBuildTicks: (s: any) => { s.ticks = yTickValues.map((value) => ({ value })); },
            afterFit: (s: any) => { s.width = 212; s.paddingTop = 0; s.paddingBottom = 0; },
            grid: { display: false, drawTicks: false },
            border: { display: true, color: "#262626", width: 1.5 },
            ticks: { color: "#404040", padding: 9, autoSkip: false, font: { family: "Liberation Sans", size: 25 } },
          },
        },
      },
      plugins: [decor],
    } as any);
    return () => chart.destroy();
  }, []);
  return (
    <>
      <canvas ref={ref} width={954} height={height} style={{ position: "absolute", left: 0, top, width: 954, height, filter: "blur(0.5px)" }} />
      <div style={{ position: "absolute", left: 12, top: labelTop, font: 'bold 29px "Liberation Serif"', lineHeight: "32px", color: "#000" }}>{label}</div>
    </>
  );
}

export default function App() {
  return (
    <div style={{ position: "absolute", left: 0, top: 0, width: 954, height: 1236, background: "#fff" }}>
      <Panel series={seriesA} title={titleA} top={0} height={620} plotTop={41.5} plotBottom={503.5} titleY={30} xLabelY={585} label="A" labelTop={16} />
      <Panel series={seriesB} title={titleB} top={620} height={616} plotTop={62} plotBottom={524} titleY={49} xLabelY={605} label="B" labelTop={639} />
    </div>
  );
}
